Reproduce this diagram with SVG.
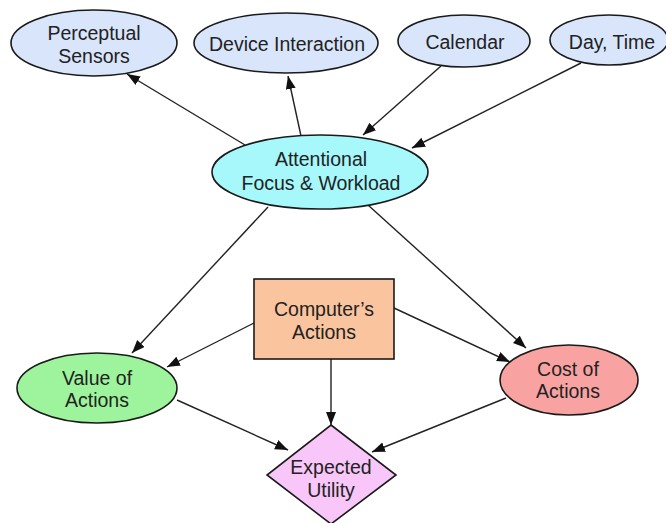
<svg xmlns="http://www.w3.org/2000/svg" width="666" height="523" viewBox="0 0 666 523">
<style>
  .n { stroke: #1a1a1a; stroke-width: 1.6; }
  .t { font-family: "Liberation Sans", Arial, sans-serif; font-size: 19.5px; fill: #222; text-anchor: middle; }
  .e { stroke: #222; stroke-width: 1.4; fill: none; marker-end: url(#ah); }
</style>
<defs>
  <marker id="ah" markerUnits="userSpaceOnUse" markerWidth="14" markerHeight="11" refX="13" refY="5" orient="auto">
    <path d="M0,0 L13,5 L0,10 z" fill="#111"/>
  </marker>
</defs>
<rect width="666" height="523" fill="#fff"/>
<g id="connectors">
  <line class="e" x1="245" y1="145" x2="127" y2="74"/>
  <line class="e" x1="301" y1="136" x2="288" y2="76"/>
  <line class="e" x1="441" y1="66" x2="363" y2="135"/>
  <line class="e" x1="581" y1="63" x2="412" y2="148"/>
  <line class="e" x1="268" y1="207" x2="132" y2="353"/>
  <line class="e" x1="368" y1="205" x2="526" y2="348"/>
  <line class="e" x1="254" y1="323" x2="167" y2="367"/>
  <line class="e" x1="394" y1="308" x2="510" y2="362"/>
  <line class="e" x1="331" y1="359" x2="331" y2="425"/>
  <line class="e" x1="177" y1="400" x2="288" y2="450"/>
  <line class="e" x1="506" y1="398" x2="372" y2="452"/>
</g>
<g id="perceptual">
  <ellipse class="n" cx="94" cy="43" rx="83" ry="33" fill="#d8e5fb"/>
  <text class="t" x="94" y="40">Perceptual</text>
  <text class="t" x="94" y="63">Sensors</text>
</g>
<g id="device">
  <ellipse class="n" cx="286" cy="43" rx="92" ry="30" fill="#d8e5fb"/>
  <text class="t" x="287" y="51">Device Interaction</text>
</g>
<g id="calendar">
  <ellipse class="n" cx="464" cy="41" rx="66" ry="26" fill="#d8e5fb"/>
  <text class="t" x="465" y="49">Calendar</text>
</g>
<g id="daytime">
  <ellipse class="n" cx="609" cy="40" rx="59" ry="25" fill="#d8e5fb"/>
  <text class="t" x="612" y="49">Day, Time</text>
</g>
<g id="attentional">
  <ellipse class="n" cx="320" cy="172" rx="108" ry="37" fill="#a6f8fb"/>
  <text class="t" x="321" y="166">Attentional</text>
  <text class="t" x="321" y="190">Focus &amp; Workload</text>
</g>
<g id="computer">
  <rect class="n" x="254" y="279" width="140" height="80" fill="#fac59e"/>
  <text class="t" x="324" y="316">Computer’s</text>
  <text class="t" x="324" y="339">Actions</text>
</g>
<g id="value">
  <ellipse class="n" cx="97" cy="388" rx="80" ry="35" fill="#9df49c"/>
  <text class="t" x="97" y="385">Value of</text>
  <text class="t" x="97" y="407">Actions</text>
</g>
<g id="cost">
  <ellipse class="n" cx="569" cy="380" rx="69" ry="35" fill="#f9a2a2"/>
  <text class="t" x="568" y="376">Cost of</text>
  <text class="t" x="568" y="398">Actions</text>
</g>
<g id="expected">
  <polygon class="n" points="331,425 396,475 331,524 267,475" fill="#f8c6f8"/>
  <text class="t" x="331" y="474">Expected</text>
  <text class="t" x="331" y="497">Utility</text>
</g>
</svg>
